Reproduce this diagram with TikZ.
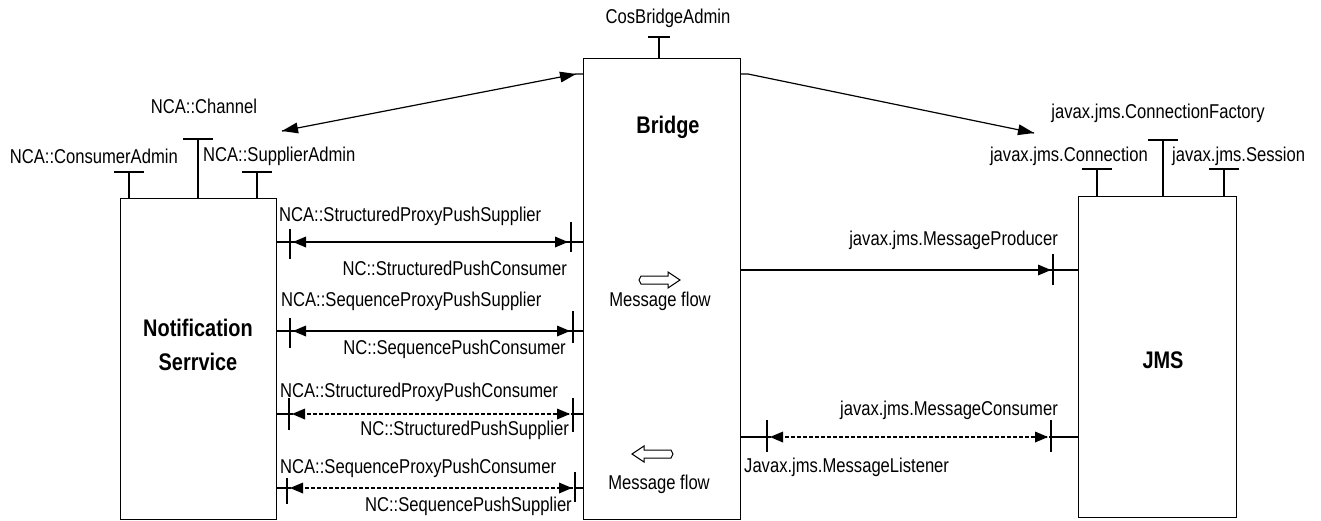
\documentclass[tikz,border=0pt]{standalone}
\usepackage{fontspec}
\setmainfont{Liberation Sans}[FakeStretch=0.83]
\usetikzlibrary{calc}

\begin{document}
\begin{tikzpicture}[x=1pt, y=1pt,
        box/.style={draw=black, line width=1.2pt, rectangle, anchor=north west},
        title/.style={font=\fontsize{24}{34}\selectfont\bfseries, align=center},
        tee/.style={black, line width=1.2pt},
        link/.style={black, line width=1.2pt},
        dashlink/.style={black, line width=1.2pt, dash pattern=on 4pt off 2pt},
        flowarrow/.style={black, line width=1pt, fill=white}]
        \tikzstyle{every node}+=[inner sep=0pt, font=\fontsize{20}{24}\selectfont]
        \useasboundingbox (0,0) rectangle (1321,-520);
        % the three blocks
        \node [box, minimum width=156pt, minimum height=321pt] (ns) at (120,-198) {};
        \node [box, minimum width=157pt, minimum height=461pt] (br) at (583,-58) {};
        \node [box, minimum width=158pt, minimum height=321pt] (jms) at (1078,-196) {};
        \node [title] (nstitle) at (198,-345) {Notification\\Serrvice};
        \node [title] (brtitle) at (668,-127) {Bridge};
        \node [title] (jmstitle) at (1163,-360) {JMS};
        % admin stubs on top
        \coordinate (ca) at (129,-172);
        \coordinate (ch) at (198,-139);
        \coordinate (sa) at (257,-172);
        \coordinate (cba) at (659,-37);
        \coordinate (cn) at (1097,-169);
        \coordinate (cf) at (1163,-140);
        \coordinate (ss) at (1224,-169);
        \draw [tee] (ns.north -| ca) -- (ca) ++(-15,0) -- ++(30,0);
        \draw [tee] (ns.north -| ch) -- (ch) ++(-15,0) -- ++(30,0);
        \draw [tee] (ns.north -| sa) -- (sa) ++(-15,0) -- ++(30,0);
        \draw [tee] (br.north -| cba) -- (cba) ++(-11,0) -- ++(22,0);
        \draw [tee] (jms.north -| cn) -- (cn) ++(-15,0) -- ++(30,0);
        \draw [tee] (jms.north -| cf) -- (cf) ++(-15,0) -- ++(30,0);
        \draw [tee] (jms.north -| ss) -- (ss) ++(-15,0) -- ++(30,0);
        \node [anchor=east] (calbl) at (178,-156) {NCA::ConsumerAdmin};
        \node (chlbl) at (204,-106) {NCA::Channel};
        \node [anchor=west] (salbl) at (203,-156) {NCA::SupplierAdmin};
        \node (cbalbl) at (668,-18) {CosBridgeAdmin};
        \node [anchor=east] (cnlbl) at (1148,-156) {javax.jms.Connection};
        \node (cflbl) at (1158,-113) {javax.jms.ConnectionFactory};
        \node [anchor=west] (sslbl) at (1172,-156) {javax.jms.Session};
        % admin links from the bridge
        \coordinate (nsadm) at (282,-131);
        \coordinate (bradm) at (576,-74);
        \coordinate (brout) at (748,-74);
        \coordinate (jmsadm) at (1034,-133);
        \draw [link] (nsadm) -- (bradm) -- (br.west |- bradm);
        \fill [black] (nsadm) -- ($(nsadm)!16pt!(bradm)!5.5pt!90:(bradm)$) -- ($(nsadm)!16pt!(bradm)!5.5pt!-90:(bradm)$) -- cycle;
        \fill [black] (bradm) -- ($(bradm)!16pt!(nsadm)!5.5pt!90:(nsadm)$) -- ($(bradm)!16pt!(nsadm)!5.5pt!-90:(nsadm)$) -- cycle;
        \draw [link] (br.east |- brout) -- (brout) -- (jmsadm);
        \fill [black] (jmsadm) -- ($(jmsadm)!16pt!(brout)!5.5pt!90:(brout)$) -- ($(jmsadm)!16pt!(brout)!5.5pt!-90:(brout)$) -- cycle;
        % push interfaces, notification side
        \coordinate (r1l) at (290,-242);
        \coordinate (r1r) at (571,-242);
        \draw [tee] (ns.east |- r1l) -- (r1l) ++(0,13) -- ++(0,-30);
        \draw [tee] (br.west |- r1r) -- (r1r) ++(0,20) -- ++(0,-30);
        \draw [link] (r1l) -- (r1r);
        \fill [black] (r1l) ++(3,0) -- ++(13,5.5) -- ++(0,-11) -- cycle;
        \fill [black] (r1r) ++(-3,0) -- ++(-13,5.5) -- ++(0,-11) -- cycle;
        \node [anchor=west] (r1top) at (279,-216) {NCA::StructuredProxyPushSupplier};
        \node [anchor=east] (r1bot) at (567,-268) {NC::StructuredPushConsumer};
        \coordinate (r2l) at (290,-331);
        \coordinate (r2r) at (573,-331);
        \draw [tee] (ns.east |- r2l) -- (r2l) ++(0,13) -- ++(0,-30);
        \draw [tee] (br.west |- r2r) -- (r2r) ++(0,20) -- ++(0,-32);
        \draw [link] (r2l) -- (r2r);
        \fill [black] (r2l) ++(3,0) -- ++(13,5.5) -- ++(0,-11) -- cycle;
        \fill [black] (r2r) ++(-3,0) -- ++(-13,5.5) -- ++(0,-11) -- cycle;
        \node [anchor=west] (r2top) at (281,-301) {NCA::SequenceProxyPushSupplier};
        \node [anchor=east] (r2bot) at (566,-349) {NC::SequencePushConsumer};
        \coordinate (r3l) at (289,-414);
        \coordinate (r3r) at (573,-414);
        \draw [tee] (ns.east |- r3l) -- (r3l) ++(0,16) -- ++(0,-32);
        \draw [tee] (br.west |- r3r) -- (r3r) ++(0,16) -- ++(0,-34);
        \draw [dashlink] (r3l) -- (r3r);
        \fill [black] (r3l) ++(3,0) -- ++(13,5.5) -- ++(0,-11) -- cycle;
        \fill [black] (r3r) ++(-3,0) -- ++(-13,5.5) -- ++(0,-11) -- cycle;
        \node [anchor=west] (r3top) at (280,-392) {NCA::StructuredProxyPushConsumer};
        \node [anchor=east] (r3bot) at (569,-430) {NC::StructuredPushSupplier};
        \coordinate (r4l) at (287,-488);
        \coordinate (r4r) at (575,-488);
        \draw [tee] (ns.east |- r4l) -- (r4l) ++(0,10) -- ++(0,-26);
        \draw [tee] (br.west |- r4r) -- (r4r) ++(0,16) -- ++(0,-30);
        \draw [dashlink] (r4l) -- (r4r);
        \fill [black] (r4l) ++(3,0) -- ++(13,5.5) -- ++(0,-11) -- cycle;
        \fill [black] (r4r) ++(-3,0) -- ++(-13,5.5) -- ++(0,-11) -- cycle;
        \node [anchor=west] (r4top) at (280,-468) {NCA::SequenceProxyPushConsumer};
        \node [anchor=east] (r4bot) at (572,-506) {NC::SequencePushSupplier};
        % message flow
        \coordinate (mfin) at (639,-280);
        \coordinate (mfout) at (673,-454);
        \draw [flowarrow] (mfin) -- ++(2,4) -- ++(27,0) -- ++(0,4) -- ++(12,-8) -- ++(-12,-8) -- ++(0,4) -- ++(-27,0) -- cycle;
        \draw [flowarrow] (mfout) -- ++(-2,4) -- ++(-27,0) -- ++(0,4) -- ++(-12,-8) -- ++(12,-8) -- ++(0,4) -- ++(27,0) -- cycle;
        \node (mflbl1) at (660,-301) {Message flow};
        \node (mflbl2) at (659,-484) {Message flow};
        % jms side
        \coordinate (mp) at (1053,-270);
        \draw [link] (br.east |- mp) -- (mp);
        \draw [tee] (jms.west |- mp) -- (mp) ++(0,16) -- ++(0,-31);
        \fill [black] (mp) ++(-2,0) -- ++(-13,5.5) -- ++(0,-11) -- cycle;
        \node [anchor=east] (mplbl) at (1058,-240) {javax.jms.MessageProducer};
        \coordinate (mll) at (767,-437);
        \coordinate (mcr) at (1051,-437);
        \draw [tee] (br.east |- mll) -- (mll) ++(0,17) -- ++(0,-32);
        \draw [tee] (jms.west |- mcr) -- (mcr) ++(0,17) -- ++(0,-32);
        \draw [dashlink] (mll) -- (mcr);
        \fill [black] (mll) ++(3,0) -- ++(13,5.5) -- ++(0,-11) -- cycle;
        \fill [black] (mcr) ++(-3,0) -- ++(-13,5.5) -- ++(0,-11) -- cycle;
        \node [anchor=east] (mclbl) at (1058,-410) {javax.jms.MessageConsumer};
        \node [anchor=west] (mllbl) at (744,-467) {Javax.jms.MessageListener};
\end{tikzpicture}
\end{document}
